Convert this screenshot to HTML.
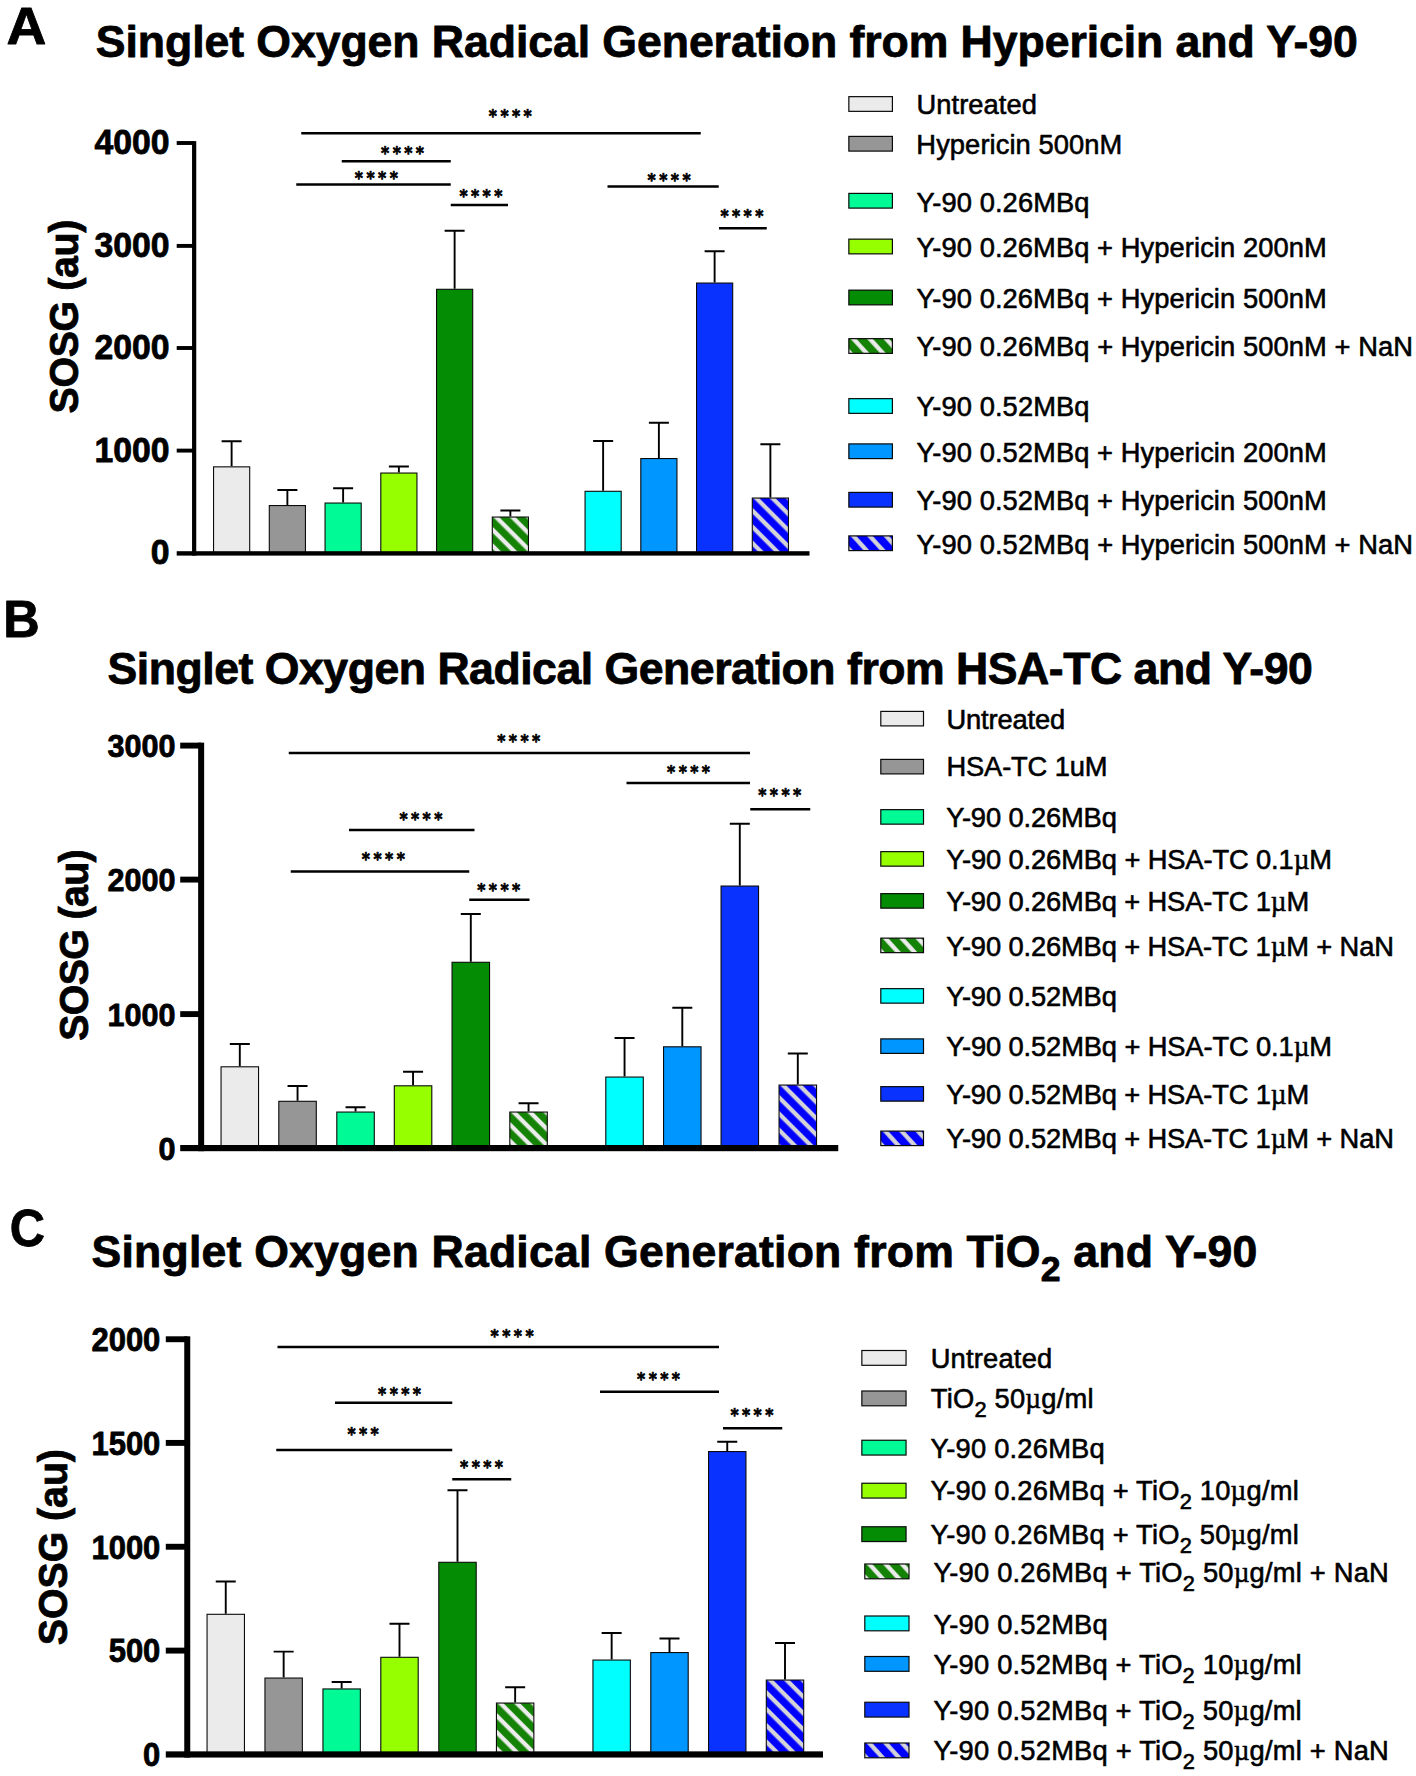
<!DOCTYPE html>
<html lang="en">
<head>
<meta charset="utf-8">
<title>Singlet Oxygen Radical Generation</title>
<style>
html,body{margin:0;padding:0;background:#fff;}
body{width:1416px;height:1776px;overflow:hidden;}
svg{display:block;}
text{font-family:"Liberation Sans", Arial, Helvetica, sans-serif;fill:#000;white-space:pre;}
.b{font-weight:700;stroke:#000;stroke-width:0.8px;stroke-linejoin:round;}
.l{font-size:28.39px;stroke:#000;stroke-width:0.6px;stroke-linejoin:round;}
.mu{font-family:"Liberation Serif", "DejaVu Serif", serif;font-size:28.39px;stroke-width:0.5px;}
.st{font-family:"DejaVu Sans", "Liberation Sans", sans-serif;font-size:17.0px;font-weight:700;letter-spacing:3.72px;stroke:#000;stroke-width:0.7px;stroke-linejoin:round;}
.e{fill:none;stroke:#000;stroke-width:1.9;}
.s{fill:none;stroke:#000;stroke-width:2.6;}
.bar{stroke:#0a0a0a;stroke-width:1.1;}
.sw{stroke:#0a0a0a;stroke-width:1.2;}
</style>
</head>
<body>
<svg width="1416" height="1776" viewBox="0 0 1416 1776">
<defs>
<pattern id="hgA" patternUnits="userSpaceOnUse" width="11.5" height="11.5" patternTransform="rotate(-45)"><rect width="11.5" height="11.5" fill="#148205"/><rect x="0.57" width="4.3" height="11.5" fill="#ececec"/></pattern>
<pattern id="hbA" patternUnits="userSpaceOnUse" width="11.5" height="11.5" patternTransform="rotate(-45)"><rect width="11.5" height="11.5" fill="#0000ff"/><rect x="0.57" width="4.3" height="11.5" fill="#d4d4d8"/></pattern>
<pattern id="lhgA" patternUnits="userSpaceOnUse" width="12.1" height="12.1" patternTransform="rotate(-42.3)"><rect width="12.1" height="12.1" fill="#148205"/><rect x="1.17" width="4.3" height="12.1" fill="#ececec"/></pattern>
<pattern id="lhbA" patternUnits="userSpaceOnUse" width="12.1" height="12.1" patternTransform="rotate(-42.3)"><rect width="12.1" height="12.1" fill="#0000ff"/><rect x="1.17" width="4.3" height="12.1" fill="#d4d4d8"/></pattern>
<pattern id="hgB" patternUnits="userSpaceOnUse" width="11.5" height="11.5" patternTransform="rotate(-45)"><rect width="11.5" height="11.5" fill="#148205"/><rect x="0.57" width="4.3" height="11.5" fill="#ececec"/></pattern>
<pattern id="hbB" patternUnits="userSpaceOnUse" width="11.5" height="11.5" patternTransform="rotate(-45)"><rect width="11.5" height="11.5" fill="#0000ff"/><rect x="0.57" width="4.3" height="11.5" fill="#d4d4d8"/></pattern>
<pattern id="lhgB" patternUnits="userSpaceOnUse" width="12.1" height="12.1" patternTransform="rotate(-42.3)"><rect width="12.1" height="12.1" fill="#148205"/><rect x="1.17" width="4.3" height="12.1" fill="#ececec"/></pattern>
<pattern id="lhbB" patternUnits="userSpaceOnUse" width="12.1" height="12.1" patternTransform="rotate(-42.3)"><rect width="12.1" height="12.1" fill="#0000ff"/><rect x="1.17" width="4.3" height="12.1" fill="#d4d4d8"/></pattern>
<pattern id="hgC" patternUnits="userSpaceOnUse" width="11.6" height="11.6" patternTransform="rotate(-45)"><rect width="11.6" height="11.6" fill="#148205"/><rect x="0.57" width="4.3" height="11.6" fill="#ececec"/></pattern>
<pattern id="hbC" patternUnits="userSpaceOnUse" width="11.6" height="11.6" patternTransform="rotate(-45)"><rect width="11.6" height="11.6" fill="#0000ff"/><rect x="0.57" width="4.3" height="11.6" fill="#d4d4d8"/></pattern>
<pattern id="lhgC" patternUnits="userSpaceOnUse" width="12.1" height="12.1" patternTransform="rotate(-42.3)"><rect width="12.1" height="12.1" fill="#148205"/><rect x="1.17" width="4.3" height="12.1" fill="#ececec"/></pattern>
<pattern id="lhbC" patternUnits="userSpaceOnUse" width="12.1" height="12.1" patternTransform="rotate(-42.3)"><rect width="12.1" height="12.1" fill="#0000ff"/><rect x="1.17" width="4.3" height="12.1" fill="#d4d4d8"/></pattern>
</defs>
<rect width="1416" height="1776" fill="#ffffff"/>
<g id="panel-A">
<path class="e" d="M231.62 466.3V441.3M221.62 441.3H241.62"/>
<rect class="bar" x="213.55" y="466.85" width="36.15" height="86.55" fill="#ebebeb"/>
<path class="e" d="M287.38 505V490M277.38 490H297.38"/>
<rect class="bar" x="269.3" y="505.55" width="36.15" height="47.85" fill="#969696"/>
<path class="e" d="M343.12 502.5V488.25M333.12 488.25H353.12"/>
<rect class="bar" x="325.05" y="503.05" width="36.15" height="50.35" fill="#00fa96"/>
<path class="e" d="M398.88 472.5V466.5M388.88 466.5H408.88"/>
<rect class="bar" x="380.8" y="473.05" width="36.15" height="80.35" fill="#96ff00"/>
<path class="e" d="M454.62 288.75V230.75M444.62 230.75H464.62"/>
<rect class="bar" x="436.55" y="289.3" width="36.15" height="264.1" fill="#058c05"/>
<path class="e" d="M510.38 516.5V510.5M500.38 510.5H520.38"/>
<g transform="translate(492.3 517.05)"><rect class="bar" width="36.15" height="36.35" fill="url(#hgA)"/></g>
<path class="e" d="M603.12 490.75V441M593.12 441H613.12"/>
<rect class="bar" x="585.05" y="491.3" width="36.15" height="62.1" fill="#00ffff"/>
<path class="e" d="M658.88 458V422.75M648.88 422.75H668.88"/>
<rect class="bar" x="640.8" y="458.55" width="36.15" height="94.85" fill="#0096ff"/>
<path class="e" d="M714.62 282.5V251.25M704.62 251.25H724.62"/>
<rect class="bar" x="696.55" y="283.05" width="36.15" height="270.35" fill="#0a32ff"/>
<path class="e" d="M770.38 497.5V444.25M760.38 444.25H780.38"/>
<g transform="translate(752.3 498.05)"><rect class="bar" width="36.15" height="55.35" fill="url(#hbA)"/></g>
<rect x="192.05" y="141.15" width="4.2" height="414.45"/>
<rect x="176.7" y="551.2" width="632.8" height="4.4"/>
<rect x="176.7" y="141.05" width="17.45" height="3.9"/>
<rect x="176.7" y="243.95" width="17.45" height="3.9"/>
<rect x="176.7" y="346.05" width="17.45" height="3.9"/>
<rect x="176.7" y="448.65" width="17.45" height="3.9"/>
<path class="s" d="M301.25 133.25H700.75"/>
<path class="s" d="M341.75 161.25H450.75"/>
<path class="s" d="M296.25 184.5H450.75"/>
<path class="s" d="M450.75 205H508"/>
<path class="s" d="M607.5 186.5H718.75"/>
<path class="s" d="M719 228.25H766.75"/>
<rect class="sw" x="848.85" y="96.65" width="43.55" height="14.7" fill="#ebebeb"/>
<rect class="sw" x="848.85" y="136.4" width="43.55" height="14.7" fill="#969696"/>
<rect class="sw" x="848.85" y="193.4" width="43.55" height="14.7" fill="#00fa96"/>
<rect class="sw" x="848.85" y="239.15" width="43.55" height="14.7" fill="#96ff00"/>
<rect class="sw" x="848.85" y="290.15" width="43.55" height="14.7" fill="#058c05"/>
<g transform="translate(848.85 338.65)"><rect class="sw" width="43.55" height="14.7" fill="url(#lhgA)"/></g>
<rect class="sw" x="848.85" y="398.65" width="43.55" height="14.7" fill="#00ffff"/>
<rect class="sw" x="848.85" y="443.9" width="43.55" height="14.7" fill="#0096ff"/>
<rect class="sw" x="848.85" y="492.4" width="43.55" height="14.7" fill="#0a32ff"/>
<g transform="translate(848.85 535.9)"><rect class="sw" width="43.55" height="14.7" fill="url(#lhbA)"/></g>
<text id="labA" class="b" transform="translate(6.41 44) scale(1.050 1.000)" font-size="52.5">A</text>
<text id="titleA" class="b" transform="translate(95.77 57)" font-size="44.6" letter-spacing="-0.063">Singlet Oxygen Radical Generation from Hypericin and Y-90</text>
<text id="tickA0" class="b" transform="translate(169.63 154) scale(0.957 1.000)" font-size="35.32" text-anchor="end">4000</text>
<text id="tickA1" class="b" transform="translate(169.63 257) scale(0.957 1.000)" font-size="35.32" text-anchor="end">3000</text>
<text id="tickA2" class="b" transform="translate(169.63 359) scale(0.957 1.000)" font-size="35.32" text-anchor="end">2000</text>
<text id="tickA3" class="b" transform="translate(169.63 462) scale(0.957 1.000)" font-size="35.32" text-anchor="end">1000</text>
<text id="tickA4" class="b" transform="translate(169.63 564) scale(0.957 1.000)" font-size="35.32" text-anchor="end">0</text>
<text id="ylA" class="b" transform="translate(78 316.73) rotate(-90) scale(1.000 1.050)" font-size="39.3" text-anchor="middle" letter-spacing="-0.350">SOSG (au)</text>
<text id="stA0" class="st" transform="translate(511.99 122) scale(0.920 1.000)" text-anchor="middle">****</text>
<text id="stA1" class="st" transform="translate(404.26 159) scale(0.920 1.000)" text-anchor="middle">****</text>
<text id="stA2" class="st" transform="translate(378.05 184) scale(0.920 1.000)" text-anchor="middle">****</text>
<text id="stA3" class="st" transform="translate(482.59 202) scale(0.920 1.000)" text-anchor="middle">****</text>
<text id="stA4" class="st" transform="translate(670.81 186) scale(0.920 1.000)" text-anchor="middle">****</text>
<text id="stA5" class="st" transform="translate(743.59 222) scale(0.920 1.000)" text-anchor="middle">****</text>
<text id="legA0" class="l" transform="translate(916.41 114) scale(0.962 1.000)" letter-spacing="0.084">Untreated</text>
<text id="legA1" class="l" transform="translate(916.33 154) scale(0.962 1.000)" letter-spacing="0.084">Hypericin 500nM</text>
<text id="legA2" class="l" transform="translate(916.54 212) scale(0.962 1.000)" letter-spacing="0.084">Y-90 0.26MBq</text>
<text id="legA3" class="l" transform="translate(916.54 257) scale(0.962 1.000)" letter-spacing="0.079">Y-90 0.26MBq + Hypericin 200nM</text>
<text id="legA4" class="l" transform="translate(916.54 308) scale(0.962 1.000)" letter-spacing="0.079">Y-90 0.26MBq + Hypericin 500nM</text>
<text id="legA5" class="l" transform="translate(916.54 356) scale(0.962 1.000)" letter-spacing="0.084">Y-90 0.26MBq + Hypericin 500nM + NaN</text>
<text id="legA6" class="l" transform="translate(916.54 416) scale(0.962 1.000)" letter-spacing="0.084">Y-90 0.52MBq</text>
<text id="legA7" class="l" transform="translate(916.54 462) scale(0.962 1.000)" letter-spacing="0.079">Y-90 0.52MBq + Hypericin 200nM</text>
<text id="legA8" class="l" transform="translate(916.54 510) scale(0.962 1.000)" letter-spacing="0.079">Y-90 0.52MBq + Hypericin 500nM</text>
<text id="legA9" class="l" transform="translate(916.54 554) scale(0.962 1.000)" letter-spacing="0.084">Y-90 0.52MBq + Hypericin 500nM + NaN</text>
</g>
<g id="panel-B">
<path class="e" d="M239.8 1066.25V1044M229.8 1044H249.8"/>
<rect class="bar" x="221.05" y="1066.8" width="37.5" height="81.3" fill="#ebebeb"/>
<path class="e" d="M297.55 1100.75V1086M287.55 1086H307.55"/>
<rect class="bar" x="278.8" y="1101.3" width="37.5" height="46.8" fill="#969696"/>
<path class="e" d="M355.55 1111.5V1107.25M345.55 1107.25H365.55"/>
<rect class="bar" x="336.8" y="1112.05" width="37.5" height="36.05" fill="#00fa96"/>
<path class="e" d="M413.05 1085.25V1071.75M403.05 1071.75H423.05"/>
<rect class="bar" x="394.3" y="1085.8" width="37.5" height="62.3" fill="#96ff00"/>
<path class="e" d="M470.8 961.75V914M460.8 914H480.8"/>
<rect class="bar" x="452.05" y="962.3" width="37.5" height="185.8" fill="#058c05"/>
<path class="e" d="M528.55 1111.5V1103.25M518.55 1103.25H538.55"/>
<g transform="translate(509.8 1112.05)"><rect class="bar" width="37.5" height="36.05" fill="url(#hgB)"/></g>
<path class="e" d="M624.55 1076.5V1038M614.55 1038H634.55"/>
<rect class="bar" x="605.8" y="1077.05" width="37.5" height="71.05" fill="#00ffff"/>
<path class="e" d="M682.3 1046.25V1007.75M672.3 1007.75H692.3"/>
<rect class="bar" x="663.55" y="1046.8" width="37.5" height="101.3" fill="#0096ff"/>
<path class="e" d="M739.8 885.5V823.75M729.8 823.75H749.8"/>
<rect class="bar" x="721.05" y="886.05" width="37.5" height="262.05" fill="#0a32ff"/>
<path class="e" d="M797.8 1084.5V1053.5M787.8 1053.5H807.8"/>
<g transform="translate(779.05 1085.05)"><rect class="bar" width="37.5" height="63.05" fill="url(#hbB)"/></g>
<rect x="198.15" y="742.65" width="6" height="408.55"/>
<rect x="180.2" y="1145" width="658.05" height="6.2"/>
<rect x="180.2" y="742.65" width="20.95" height="5.9"/>
<rect x="180.2" y="876.65" width="20.95" height="5.9"/>
<rect x="180.2" y="1011.15" width="20.95" height="5.9"/>
<path class="s" d="M288.75 753H750"/>
<path class="s" d="M349 830H474.5"/>
<path class="s" d="M290.75 871.5H469.25"/>
<path class="s" d="M469.25 899.75H529.5"/>
<path class="s" d="M626.5 783H750"/>
<path class="s" d="M750.25 809.25H810.25"/>
<rect class="sw" x="880.8" y="711.4" width="42.7" height="14.5" fill="#ebebeb"/>
<rect class="sw" x="880.8" y="759.4" width="42.7" height="14.5" fill="#969696"/>
<rect class="sw" x="880.8" y="809.65" width="42.7" height="14.5" fill="#00fa96"/>
<rect class="sw" x="880.8" y="851.65" width="42.7" height="14.5" fill="#96ff00"/>
<rect class="sw" x="880.8" y="893.65" width="42.7" height="14.5" fill="#058c05"/>
<g transform="translate(880.8 938.15)"><rect class="sw" width="42.7" height="14.5" fill="url(#lhgB)"/></g>
<rect class="sw" x="880.8" y="988.65" width="42.7" height="14.5" fill="#00ffff"/>
<rect class="sw" x="880.8" y="1038.9" width="42.7" height="14.5" fill="#0096ff"/>
<rect class="sw" x="880.8" y="1086.65" width="42.7" height="14.5" fill="#0a32ff"/>
<g transform="translate(880.8 1131.1)"><rect class="sw" width="42.7" height="14.5" fill="url(#lhbB)"/></g>
<text id="labB" class="b" transform="translate(3.21 637) scale(0.980 1.000)" font-size="51.5">B</text>
<text id="titleB" class="b" transform="translate(107.61 684)" font-size="44.6" letter-spacing="-0.482">Singlet Oxygen Radical Generation from HSA-TC and Y-90</text>
<text id="tickB0" class="b" transform="translate(175.47 757) scale(0.957 1.000)" font-size="31.98" text-anchor="end">3000</text>
<text id="tickB1" class="b" transform="translate(175.47 891) scale(0.957 1.000)" font-size="31.98" text-anchor="end">2000</text>
<text id="tickB2" class="b" transform="translate(175.47 1026) scale(0.957 1.000)" font-size="31.98" text-anchor="end">1000</text>
<text id="tickB3" class="b" transform="translate(175.47 1160) scale(0.957 1.000)" font-size="31.98" text-anchor="end">0</text>
<text id="ylB" class="b" transform="translate(88 945.4) rotate(-90) scale(1.000 1.050)" font-size="39.3" text-anchor="middle" letter-spacing="-0.627">SOSG (au)</text>
<text id="stB0" class="st" transform="translate(520.42 747) scale(0.920 1.000)" text-anchor="middle">****</text>
<text id="stB1" class="st" transform="translate(422.59 825) scale(0.920 1.000)" text-anchor="middle">****</text>
<text id="stB2" class="st" transform="translate(385.05 865) scale(0.920 1.000)" text-anchor="middle">****</text>
<text id="stB3" class="st" transform="translate(500.42 896) scale(0.920 1.000)" text-anchor="middle">****</text>
<text id="stB4" class="st" transform="translate(690.26 778) scale(0.920 1.000)" text-anchor="middle">****</text>
<text id="stB5" class="st" transform="translate(781.42 801) scale(0.920 1.000)" text-anchor="middle">****</text>
<text id="legB0" class="l" transform="translate(946.45 729) scale(0.962 1.000)" letter-spacing="-0.143">Untreated</text>
<text id="legB1" class="l" transform="translate(946.41 776) scale(0.962 1.000)" letter-spacing="-0.143">HSA-TC 1uM</text>
<text id="legB2" class="l" transform="translate(946.33 827) scale(0.962 1.000)" letter-spacing="-0.143">Y-90 0.26MBq</text>
<text id="legB3" class="l" transform="translate(946.33 869) scale(0.962 1.000)" letter-spacing="-0.123">Y-90 0.26MBq + HSA-TC 0.1<tspan class="mu">µ</tspan>M</text>
<text id="legB4" class="l" transform="translate(946.33 911) scale(0.962 1.000)" letter-spacing="-0.137">Y-90 0.26MBq + HSA-TC 1<tspan class="mu">µ</tspan>M</text>
<text id="legB5" class="l" transform="translate(946.33 956) scale(0.962 1.000)" letter-spacing="-0.143">Y-90 0.26MBq + HSA-TC 1<tspan class="mu">µ</tspan>M + NaN</text>
<text id="legB6" class="l" transform="translate(946.33 1006) scale(0.962 1.000)" letter-spacing="-0.143">Y-90 0.52MBq</text>
<text id="legB7" class="l" transform="translate(946.33 1056) scale(0.962 1.000)" letter-spacing="-0.123">Y-90 0.52MBq + HSA-TC 0.1<tspan class="mu">µ</tspan>M</text>
<text id="legB8" class="l" transform="translate(946.33 1104) scale(0.962 1.000)" letter-spacing="-0.137">Y-90 0.52MBq + HSA-TC 1<tspan class="mu">µ</tspan>M</text>
<text id="legB9" class="l" transform="translate(946.33 1148) scale(0.962 1.000)" letter-spacing="-0.143">Y-90 0.52MBq + HSA-TC 1<tspan class="mu">µ</tspan>M + NaN</text>
</g>
<g id="panel-C">
<path class="e" d="M225.75 1613.75V1581.5M215.75 1581.5H235.75"/>
<rect class="bar" x="207.05" y="1614.3" width="37.4" height="140.15" fill="#ebebeb"/>
<path class="e" d="M283.65 1677.5V1651.6M273.65 1651.6H293.65"/>
<rect class="bar" x="264.95" y="1678.05" width="37.4" height="76.4" fill="#969696"/>
<path class="e" d="M341.65 1688.4V1682M331.65 1682H351.65"/>
<rect class="bar" x="322.95" y="1688.95" width="37.4" height="65.5" fill="#00fa96"/>
<path class="e" d="M399.5 1656.75V1623.75M389.5 1623.75H409.5"/>
<rect class="bar" x="380.8" y="1657.3" width="37.4" height="97.15" fill="#96ff00"/>
<path class="e" d="M457.5 1561.75V1490.25M447.5 1490.25H467.5"/>
<rect class="bar" x="438.8" y="1562.3" width="37.4" height="192.15" fill="#058c05"/>
<path class="e" d="M515.15 1702.5V1687.25M505.15 1687.25H525.15"/>
<g transform="translate(496.45 1703.05)"><rect class="bar" width="37.4" height="51.4" fill="url(#hgC)"/></g>
<path class="e" d="M611.65 1659.5V1633M601.65 1633H621.65"/>
<rect class="bar" x="592.95" y="1660.05" width="37.4" height="94.4" fill="#00ffff"/>
<path class="e" d="M669.5 1652V1638.5M659.5 1638.5H679.5"/>
<rect class="bar" x="650.8" y="1652.55" width="37.4" height="101.9" fill="#0096ff"/>
<path class="e" d="M727.25 1451V1441.75M717.25 1441.75H737.25"/>
<rect class="bar" x="708.55" y="1451.55" width="37.4" height="302.9" fill="#0a32ff"/>
<path class="e" d="M785 1679.5V1643M775 1643H795"/>
<g transform="translate(766.3 1680.05)"><rect class="bar" width="37.4" height="74.4" fill="url(#hbC)"/></g>
<rect x="184.25" y="1336.3" width="6" height="421.25"/>
<rect x="165.8" y="1751.35" width="657.2" height="6.2"/>
<rect x="165.8" y="1336.3" width="21.45" height="5.9"/>
<rect x="165.8" y="1439.95" width="21.45" height="5.9"/>
<rect x="165.8" y="1543.8" width="21.45" height="5.9"/>
<rect x="165.8" y="1647.65" width="21.45" height="5.9"/>
<path class="s" d="M277.5 1347H719"/>
<path class="s" d="M335 1402.75H452.25"/>
<path class="s" d="M276.25 1450H452.25"/>
<path class="s" d="M452.25 1479.25H511.25"/>
<path class="s" d="M600 1391.75H719"/>
<path class="s" d="M723 1428.25H782.25"/>
<rect class="sw" x="861.85" y="1350.5" width="44.2" height="14.8" fill="#ebebeb"/>
<rect class="sw" x="861.85" y="1391" width="44.2" height="14.8" fill="#969696"/>
<rect class="sw" x="861.85" y="1440.25" width="44.2" height="14.8" fill="#00fa96"/>
<rect class="sw" x="861.85" y="1483.25" width="44.2" height="14.8" fill="#96ff00"/>
<rect class="sw" x="861.85" y="1526.75" width="44.2" height="14.8" fill="#058c05"/>
<g transform="translate(864.8 1564)"><rect class="sw" width="44.2" height="14.8" fill="url(#lhgC)"/></g>
<rect class="sw" x="864.8" y="1616" width="44.2" height="14.8" fill="#00ffff"/>
<rect class="sw" x="864.8" y="1656.5" width="44.2" height="14.8" fill="#0096ff"/>
<rect class="sw" x="864.8" y="1702.25" width="44.2" height="14.8" fill="#0a32ff"/>
<g transform="translate(864.8 1743)"><rect class="sw" width="44.2" height="14.8" fill="url(#lhbC)"/></g>
<text id="labC" class="b" transform="translate(9.7 1246) scale(0.930 1.000)" font-size="52.5">C</text>
<text id="titleC" class="b" transform="translate(91.5 1267)" font-size="44.6" letter-spacing="0.200">Singlet Oxygen Radical Generation from TiO<tspan class="sub" font-size="35.68" dy="14.27">2</tspan><tspan dy="-14.27"> and Y-90</tspan></text>
<text id="tickC0" class="b" transform="translate(160.35 1351) scale(0.957 1.000)" font-size="32.39" text-anchor="end">2000</text>
<text id="tickC1" class="b" transform="translate(160.35 1455) scale(0.957 1.000)" font-size="32.39" text-anchor="end">1500</text>
<text id="tickC2" class="b" transform="translate(160.35 1559) scale(0.957 1.000)" font-size="32.39" text-anchor="end">1000</text>
<text id="tickC3" class="b" transform="translate(160.35 1662) scale(0.957 1.000)" font-size="32.39" text-anchor="end">500</text>
<text id="tickC4" class="b" transform="translate(160.35 1766) scale(0.957 1.000)" font-size="32.39" text-anchor="end">0</text>
<text id="ylC" class="b" transform="translate(67 1547.14) rotate(-90) scale(1.000 1.050)" font-size="39.3" text-anchor="middle" letter-spacing="-0.039">SOSG (au)</text>
<text id="stC0" class="st" transform="translate(513.81 1342) scale(0.920 1.000)" text-anchor="middle">****</text>
<text id="stC1" class="st" transform="translate(401.26 1400) scale(0.920 1.000)" text-anchor="middle">****</text>
<text id="stC2" class="st" transform="translate(364.81 1440) scale(0.920 1.000)" text-anchor="middle">***</text>
<text id="stC3" class="st" transform="translate(483.26 1473) scale(0.920 1.000)" text-anchor="middle">****</text>
<text id="stC4" class="st" transform="translate(660.26 1385) scale(0.920 1.000)" text-anchor="middle">****</text>
<text id="stC5" class="st" transform="translate(753.59 1421) scale(0.920 1.000)" text-anchor="middle">****</text>
<text id="legC0" class="l" transform="translate(930.68 1368) scale(0.962 1.000)" letter-spacing="0.216">Untreated</text>
<text id="legC1" class="l" transform="translate(930.82 1408) scale(0.962 1.000)" letter-spacing="0.216">TiO<tspan class="sub" font-size="22.71" dy="9.09">2</tspan><tspan dy="-9.09"> 50<tspan class="mu">µ</tspan>g/ml</tspan></text>
<text id="legC2" class="l" transform="translate(930.4 1458) scale(0.962 1.000)" letter-spacing="0.216">Y-90 0.26MBq</text>
<text id="legC3" class="l" transform="translate(930.4 1500) scale(0.962 1.000)" letter-spacing="0.214">Y-90 0.26MBq + TiO<tspan class="sub" font-size="22.71" dy="9.09">2</tspan><tspan dy="-9.09"> 10<tspan class="mu">µ</tspan>g/ml</tspan></text>
<text id="legC4" class="l" transform="translate(930.4 1544) scale(0.962 1.000)" letter-spacing="0.214">Y-90 0.26MBq + TiO<tspan class="sub" font-size="22.71" dy="9.09">2</tspan><tspan dy="-9.09"> 50<tspan class="mu">µ</tspan>g/ml</tspan></text>
<text id="legC5" class="l" transform="translate(933.39 1582) scale(0.962 1.000)" letter-spacing="0.216">Y-90 0.26MBq + TiO<tspan class="sub" font-size="22.71" dy="9.09">2</tspan><tspan dy="-9.09"> 50<tspan class="mu">µ</tspan>g/ml + NaN</tspan></text>
<text id="legC6" class="l" transform="translate(933.39 1634) scale(0.962 1.000)" letter-spacing="0.216">Y-90 0.52MBq</text>
<text id="legC7" class="l" transform="translate(933.39 1674) scale(0.962 1.000)" letter-spacing="0.210">Y-90 0.52MBq + TiO<tspan class="sub" font-size="22.71" dy="9.09">2</tspan><tspan dy="-9.09"> 10<tspan class="mu">µ</tspan>g/ml</tspan></text>
<text id="legC8" class="l" transform="translate(933.39 1720) scale(0.962 1.000)" letter-spacing="0.210">Y-90 0.52MBq + TiO<tspan class="sub" font-size="22.71" dy="9.09">2</tspan><tspan dy="-9.09"> 50<tspan class="mu">µ</tspan>g/ml</tspan></text>
<text id="legC9" class="l" transform="translate(933.39 1760) scale(0.962 1.000)" letter-spacing="0.216">Y-90 0.52MBq + TiO<tspan class="sub" font-size="22.71" dy="9.09">2</tspan><tspan dy="-9.09"> 50<tspan class="mu">µ</tspan>g/ml + NaN</tspan></text>
</g>
</svg>
</body>
</html>
